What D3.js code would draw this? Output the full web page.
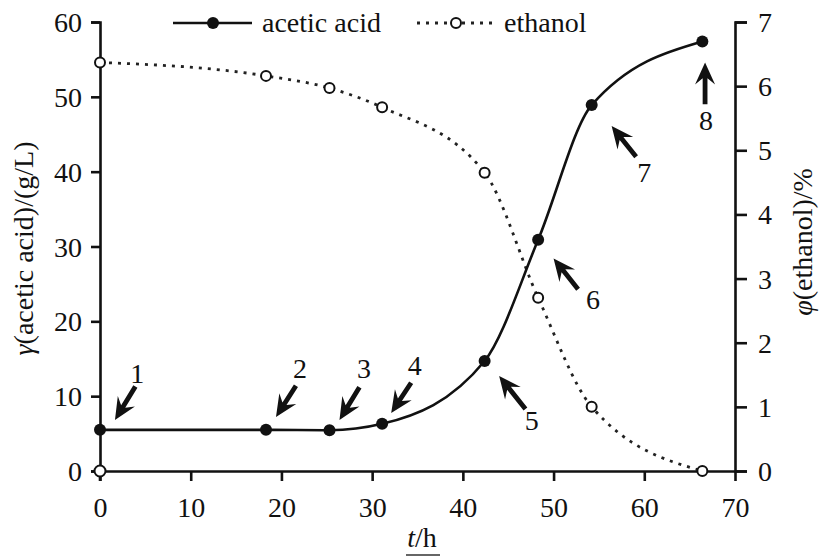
<!DOCTYPE html>
<html><head><meta charset="utf-8">
<script src="https://cdn.jsdelivr.net/npm/d3@7"></script>
<style>
html,body{margin:0;padding:0;background:#fff;}
</style></head>
<body><svg id="c" width="820" height="558"></svg>
<script>
// ---- data ----
const timeH = [0, 18.3, 25.3, 31.1, 42.4, 48.3, 54.2, 66.4];
const aceticAcid = [5.5, 5.5, 5.45, 6.3, 14.7, 30.9, 48.9, 57.4];   // g/L, left axis
const ethanol = [6.37, 6.16, 5.97, 5.67, 4.65, 2.7, 1.0, 0.0];       // %, right axis
const originMarker = [[0, 0]];
const xTicks = [0, 10, 20, 30, 40, 50, 60, 70];
const yLeftTicks = [0, 10, 20, 30, 40, 50, 60];
const yRightTicks = [0, 1, 2, 3, 4, 5, 6, 7];
const seriesNames = ["acetic acid", "ethanol"];
// annotation arrows in data units (t, acetic acid scale)
const arrowLabels = ["1", "2", "3", "4", "5", "6", "7", "8"];
const arrowTips  = [[1.65, 6.8], [19.4, 7.2], [26.4, 6.8], [32.1, 7.75], [44.0, 12.7], [50.0, 28.4], [56.4, 46.1], [66.7, 54.6]];
const arrowTails = [[3.9, 11.3], [21.6, 11.4], [28.6, 11.2], [34.3, 11.8], [46.9, 8.3], [52.7, 24.3], [59.1, 42.0], [66.7, 49.0]];
const labelPos   = [[4.1, 11.8], [22.05, 12.4], [29.1, 12.4], [34.7, 12.8], [47.6, 5.5], [54.35, 21.7], [60.0, 38.6], [66.8, 45.6]];

// ---- layout ----
const SERIF = "'Liberation Serif', 'Times New Roman', Tinos, serif";
const svg = d3.select("#c").style("font-family", SERIF);
const x = d3.scaleLinear().domain([0, 70]).range([100, 735]);
const yL = d3.scaleLinear().domain([0, 60]).range([471, 22]);
const yR = d3.scaleLinear().domain([0, 7]).range([471, 22]);
const FS = "28px";

function txt(sel) { return sel.style("font-family", SERIF).style("font-size", FS).style("fill", "#111"); }
function styleAxis(g) {
  g.attr("font-family", null).attr("font-size", null);
  g.selectAll("path.domain").attr("stroke", "#111").attr("stroke-width", 2.6);
  g.selectAll(".tick line").attr("stroke", "#111").attr("stroke-width", 2.6);
  txt(g.selectAll(".tick text"));
}

const gx = svg.append("g").attr("transform", "translate(0,471)")
  .call(d3.axisBottom(x).tickValues(xTicks).tickSize(10).tickSizeOuter(0).tickPadding(16).tickFormat(d3.format("d")));
styleAxis(gx);
const gl = svg.append("g").attr("transform", "translate(100,0)")
  .call(d3.axisLeft(yL).tickValues(yLeftTicks).tickSize(9).tickSizeOuter(9).tickPadding(9).tickFormat(d3.format("d")));
styleAxis(gl);
gl.selectAll(".tick text").attr("dy", "0.34em");
const gr = svg.append("g").attr("transform", "translate(735,0)")
  .call(d3.axisRight(yR).tickValues(yRightTicks).tickSize(12).tickSizeOuter(12).tickPadding(11).tickFormat(d3.format("d")));
styleAxis(gr);
gr.selectAll(".tick text").attr("dy", "0.34em");
// left axis continues slightly below the origin
svg.append("line").attr("x1", x(0)).attr("x2", x(0)).attr("y1", yL(0)).attr("y2", yL(0) + 10).attr("stroke", "#111").attr("stroke-width", 2.6);

// axis titles
txt(svg.append("text").attr("transform", `translate(33,${(yL(0) + yL(60)) / 2 + 2}) rotate(-90)`)
  .attr("text-anchor", "middle"))
  .html('<tspan font-style="italic">γ</tspan>(acetic acid)/(g/L)');
txt(svg.append("text").attr("transform", `translate(812,242) rotate(-90)`)
  .attr("text-anchor", "middle"))
  .html('<tspan font-style="italic">φ</tspan>(ethanol)/%');
txt(svg.append("text").attr("x", 422).attr("y", 547).attr("text-anchor", "middle"))
  .html('<tspan font-style="italic">t</tspan>/h');
svg.append("line").attr("x1", 406).attr("x2", 440).attr("y1", 555).attr("y2", 555).attr("stroke", "#333").attr("stroke-width", 1.5);

// ---- series ----
const acData = timeH.map((t, i) => [t, aceticAcid[i]]);
const etData = timeH.map((t, i) => [t, ethanol[i]]);

svg.append("path").datum(etData)
  .attr("d", d3.line().x(d => x(d[0])).y(d => yR(d[1])).curve(d3.curveMonotoneX))
  .attr("fill", "none").attr("stroke", "#222").attr("stroke-width", 2.8).attr("stroke-dasharray", "3,6");
svg.append("path").datum(acData)
  .attr("d", d3.line().x(d => x(d[0])).y(d => yL(d[1])).curve(d3.curveMonotoneX))
  .attr("fill", "none").attr("stroke", "#111").attr("stroke-width", 2.6);

svg.selectAll("circle.et").data(etData).join("circle").attr("class", "et")
  .attr("cx", d => x(d[0])).attr("cy", d => yR(d[1])).attr("r", 5)
  .attr("fill", "#fff").attr("stroke", "#111").attr("stroke-width", 2);
svg.selectAll("circle.org").data(originMarker).join("circle").attr("class", "org")
  .attr("cx", d => x(d[0])).attr("cy", d => yL(d[1])).attr("r", 5.5)
  .attr("fill", "#fff").attr("stroke", "#111").attr("stroke-width", 2);
svg.selectAll("circle.ac").data(acData).join("circle").attr("class", "ac")
  .attr("cx", d => x(d[0])).attr("cy", d => yL(d[1])).attr("r", 6)
  .attr("fill", "#111");

// ---- arrows ----
function arrowPath(tip, tail) {
  const tx = x(tip[0]), ty = yL(tip[1]), sx = x(tail[0]), sy = yL(tail[1]);
  const dx = sx - tx, dy = sy - ty, L = Math.hypot(dx, dy);
  const ux = dx / L, uy = dy / L, px = -uy, py = ux;
  const hl = 22, hw = 10, sw = 2.4;
  const bx = tx + ux * hl * 0.72, by = ty + uy * hl * 0.72;
  const hx = tx + ux * hl, hy = ty + uy * hl;
  const pts = [
    [tx, ty],
    [hx + px * hw, hy + py * hw],
    [bx + px * sw, by + py * sw],
    [sx + px * sw, sy + py * sw],
    [sx - px * sw, sy - py * sw],
    [bx - px * sw, by - py * sw],
    [hx - px * hw, hy - py * hw]
  ];
  return "M" + pts.map(p => p.join(",")).join("L") + "Z";
}
arrowLabels.forEach((lab, i) => {
  svg.append("path").attr("d", arrowPath(arrowTips[i], arrowTails[i])).attr("fill", "#111");
  txt(svg.append("text").attr("x", x(labelPos[i][0])).attr("y", yL(labelPos[i][1]))
    .attr("text-anchor", "middle")).text(lab);
});

// ---- legend ----
const lg = svg.append("g");
lg.append("line").attr("x1", 173).attr("x2", 252).attr("y1", 23).attr("y2", 23).attr("stroke", "#111").attr("stroke-width", 2.6);
lg.append("circle").attr("cx", 213).attr("cy", 23).attr("r", 6).attr("fill", "#111");
txt(lg.append("text").attr("x", 262).attr("y", 32)).text(seriesNames[0]);
lg.append("line").attr("x1", 417).attr("x2", 497).attr("y1", 23).attr("y2", 23).attr("stroke", "#222").attr("stroke-width", 2.8).attr("stroke-dasharray", "3,6");
lg.append("circle").attr("cx", 456).attr("cy", 23).attr("r", 5).attr("fill", "#fff").attr("stroke", "#111").attr("stroke-width", 2);
txt(lg.append("text").attr("x", 504).attr("y", 32)).text(seriesNames[1]);
</script></body></html>
